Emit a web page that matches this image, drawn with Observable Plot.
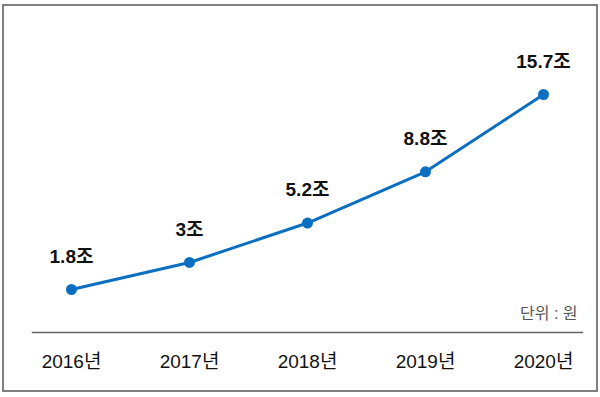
<!DOCTYPE html>
<html>
<head>
<meta charset="utf-8">
<script src="https://cdn.jsdelivr.net/npm/d3@7"></script>
<script src="https://cdn.jsdelivr.net/npm/@observablehq/plot@0.6"></script>
<style>
  html, body { margin: 0; padding: 0; background: #fff; }
  #wrap { position: relative; width: 600px; height: 397px; }
  #border { position: absolute; left: 2px; top: 4px; width: 596px; height: 388px; box-sizing: border-box; border: 2px solid #808080; pointer-events: none; }
</style>
</head>
<body>
<div id="wrap"><div id="border"></div></div>
<script>
const years = ["2016", "2017", "2018", "2019", "2020"];
const values = [1.8, 3, 5.2, 8.8, 15.7];
const valueLabels = ["1.8조", "3조", "5.2조", "8.8조", "15.7조"];
const unitLabel = "단위 : 원";

const data = years.map((y, i) => ({year: y, value: values[i], label: valueLabels[i]}));
const blue = "#0a6fc0";
const font = "'Liberation Sans', 'Noto Sans CJK KR', Arial, sans-serif";

const chart = Plot.plot({
  width: 600,
  height: 397,
  marginLeft: 32,
  marginRight: 18,
  marginTop: 20,
  marginBottom: 65,
  style: {fontFamily: font, background: "transparent", overflow: "visible"},
  x: {type: "point", domain: years, padding: 0.33, axis: null},
  y: {type: "pow", exponent: 0.57, domain: [1.8, 15.7], range: [289, 94], axis: null},
  marks: [
    Plot.frame({anchor: "bottom", stroke: "#666", strokeWidth: 1.5}),
    Plot.axisX({tickSize: 0, tickPadding: 22, fontSize: 19, fill: "#111", tickFormat: d => d + "년", label: null}),
    Plot.line(data, {x: "year", y: "value", stroke: blue, strokeWidth: 3}),
    Plot.dot(data, {x: "year", y: "value", r: 5.5, fill: blue, stroke: "none"}),
    Plot.text(data, {x: "year", y: "value", text: "label", dy: -33, fontSize: 19, fontWeight: "bold", fill: "#111", letterSpacing: "-0.5px"}),
    Plot.text([unitLabel], {frameAnchor: "bottom-right", text: d => d, dx: -5, dy: -19, textAnchor: "end", lineAnchor: "middle", fontSize: 16, fill: "#555"})
  ]
});
document.getElementById("wrap").prepend(chart);
</script>
</body>
</html>
